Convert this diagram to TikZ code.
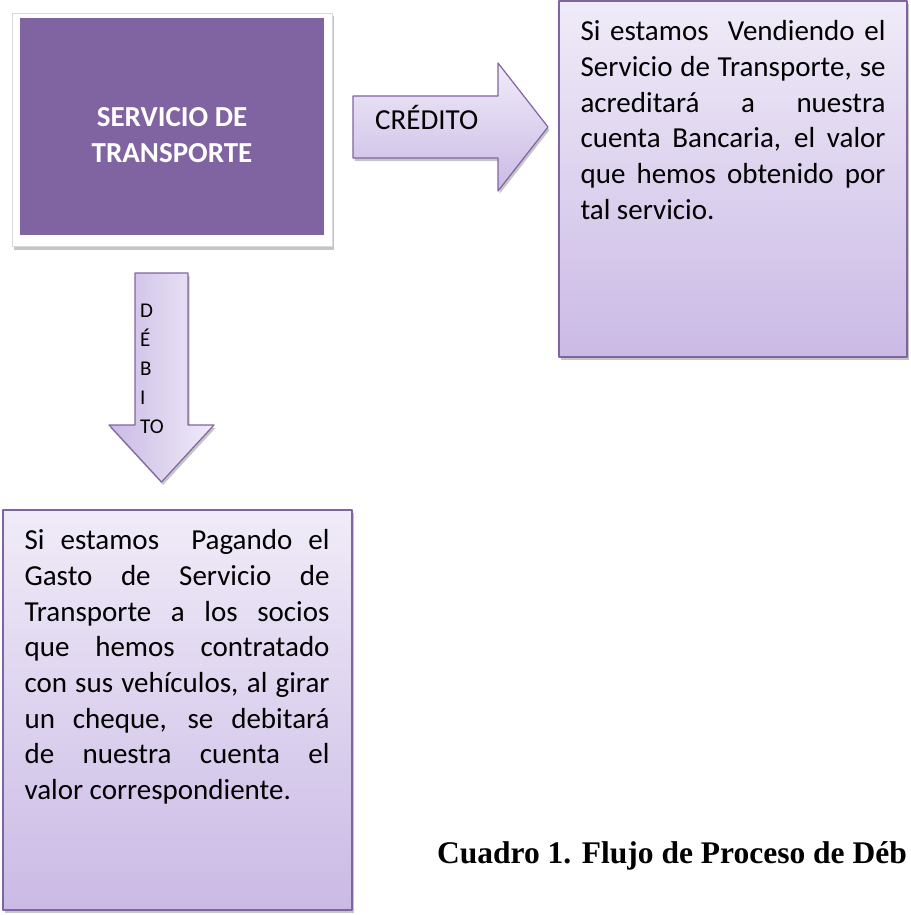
\documentclass[tikz,border=0pt]{standalone}
\usepackage{fontspec}
\setmainfont{Carlito}
\newfontfamily\captionfont{Liberation Serif}
\usepackage{tikz}
\usetikzlibrary{positioning}
\usetikzlibrary{shadows}
\definecolor{lila}{RGB}{128,100,162}
\definecolor{lilatop}{RGB}{240,235,248}
\definecolor{lilabot}{RGB}{202,186,229}
\tolerance=10000
\hyphenpenalty=10000
\hbadness=10000

\begin{document}
\begin{tikzpicture}[line cap=round,line join=round,x=1pt,y=-1pt,
  sombra/.style={drop shadow={shadow xshift=1.5pt,shadow yshift=-3pt,fill=black!45}},
  caja/.style={draw=lila,line width=1.3pt,top color=lilatop,bottom color=lilabot,sombra,inner sep=0pt},
  flecha/.style={draw=lila,line width=1.2pt,top color=lilatop,bottom color=lilabot,sombra},
  flechaabajo/.style={draw=lila,line width=1.2pt,left color=lilabot,right color=lilatop,sombra},
  texto/.style={inner sep=0pt,text width=305pt,align=justify,font=\fontsize{29}{35.7}\selectfont},
  titulo/.style={inner sep=0pt,align=center,text=white,font=\bfseries\fontsize{29}{36}\selectfont}]
\useasboundingbox (0,0) rectangle (910,915);
\clip (0,0) rectangle (910,915);
% servicio de transporte
\node[draw=gray!30,line width=1pt,fill=white,sombra,minimum width=320pt,minimum height=233pt] (marco) at (172,130) {};
\node[fill=lila,inner sep=0pt,minimum width=304pt,minimum height=217pt] (servicio) at (172,126.5) {};
\node[titulo] (serviciotxt) at (172,135.5) {SERVICIO DE\\TRANSPORTE};
% credito
\draw[flecha] (353,96) -- (498,96) -- (498,63) -- (548,127) -- (498,191) -- (498,158) -- (353,158) -- cycle;
\node[inner sep=0pt,anchor=base west,font=\fontsize{29}{36}\selectfont] (credito) at (375,129) {CRÉDITO};
\node[caja,minimum width=348pt,minimum height=356pt] (venta) at (733,179) {};
\node[texto,below right=20pt and 22pt of venta.north west] (ventatxt) {Si estamos\ \ Vendiendo el\linebreak Servicio de Transporte, se\linebreak acreditará a nuestra\linebreak cuenta Bancaria, el valor\linebreak que hemos obtenido por\linebreak tal servicio.};
% debito
\draw[flechaabajo] (135,273) -- (188,273) -- (188,425) -- (214,425) -- (161.5,482) -- (109,425) -- (135,425) -- cycle;
\node[inner sep=0pt,anchor=north west,align=left,font=\fontsize{21}{29}\selectfont] (debito) at (140,303.5) {D\\É\\B\\I\\TO};
\node[caja,minimum width=349pt,minimum height=400pt] (pago) at (177.5,710) {};
\node[texto,below right=20pt and 22pt of pago.north west] (pagotxt) {Si estamos\ \ Pagando el\linebreak Gasto de Servicio de\linebreak Transporte a los socios\linebreak que hemos contratado\linebreak con sus vehículos, al girar\linebreak un cheque, se debitará\linebreak de nuestra cuenta el\linebreak valor correspondiente.};
% leyenda
\node[inner sep=0pt,anchor=base west,font=\captionfont\bfseries\fontsize{31.5}{38}\selectfont] (leyenda) at (437,863) {Cuadro 1. Flujo de Proceso de Déb};
\end{tikzpicture}
\end{document}
